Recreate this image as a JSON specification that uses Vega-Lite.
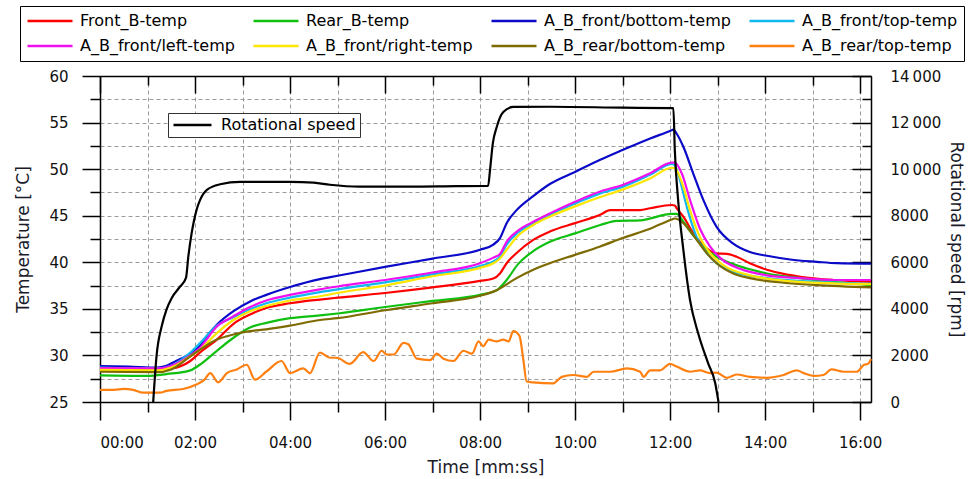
{
  "$schema": "https://vega.github.io/schema/vega-lite/v6.json",
  "width": 771,
  "height": 326,
  "autosize": {"type": "none"},
  "padding": {"left": 100, "top": 76, "right": 100, "bottom": 77},
  "background": "white",
  "config": {
    "font": "DejaVu Sans",
    "view": {"stroke": null},
    "axis": {
      "domainColor": "black", "tickColor": "black", "domainWidth": 1.5, "tickWidth": 1.5,
      "labelColor": "#111", "labelFont": "DejaVu Sans", "labelFontSize": 15,
      "titleFont": "DejaVu Sans", "titleFontSize": 17, "titleFontWeight": "normal", "titleColor": "#1a1a2a",
      "gridColor": "#9a9a9a", "gridDash": [4, 3], "gridWidth": 1
    }
  },
  "datasets": {
    "temps": [
      {"series":"Front_B-temp","time":0,"temp":28.55},{"series":"Front_B-temp","time":0.6,"temp":28.55},{"series":"Front_B-temp","time":1.2,"temp":28.5},{"series":"Front_B-temp","time":1.5,"temp":28.6},{"series":"Front_B-temp","time":1.9,"temp":29.4},{"series":"Front_B-temp","time":2.1,"temp":30.3},{"series":"Front_B-temp","time":2.46,"temp":31.7},{"series":"Front_B-temp","time":2.81,"temp":33.4},{"series":"Front_B-temp","time":3.16,"temp":34.4},{"series":"Front_B-temp","time":3.5,"temp":35.1},{"series":"Front_B-temp","time":4.0,"temp":35.6},{"series":"Front_B-temp","time":4.63,"temp":36.0},{"series":"Front_B-temp","time":5.0,"temp":36.2},{"series":"Front_B-temp","time":6.0,"temp":36.7},{"series":"Front_B-temp","time":7.0,"temp":37.3},{"series":"Front_B-temp","time":8.0,"temp":38.0},{"series":"Front_B-temp","time":8.28,"temp":38.25},{"series":"Front_B-temp","time":8.42,"temp":38.8},{"series":"Front_B-temp","time":8.56,"temp":39.9},{"series":"Front_B-temp","time":8.77,"temp":41.0},{"series":"Front_B-temp","time":9.12,"temp":42.4},{"series":"Front_B-temp","time":9.47,"temp":43.3},{"series":"Front_B-temp","time":10.0,"temp":44.2},{"series":"Front_B-temp","time":10.53,"temp":45.1},{"series":"Front_B-temp","time":10.74,"temp":45.6},{"series":"Front_B-temp","time":11.37,"temp":45.6},{"series":"Front_B-temp","time":11.58,"temp":45.8},{"series":"Front_B-temp","time":12.04,"temp":46.15},{"series":"Front_B-temp","time":12.1,"temp":46.1},{"series":"Front_B-temp","time":12.14,"temp":45.8},{"series":"Front_B-temp","time":12.28,"temp":44.9},{"series":"Front_B-temp","time":12.49,"temp":43.1},{"series":"Front_B-temp","time":12.77,"temp":41.5},{"series":"Front_B-temp","time":12.98,"temp":40.95},{"series":"Front_B-temp","time":13.19,"temp":40.9},{"series":"Front_B-temp","time":13.4,"temp":40.6},{"series":"Front_B-temp","time":13.68,"temp":39.9},{"series":"Front_B-temp","time":14.04,"temp":39.2},{"series":"Front_B-temp","time":14.39,"temp":38.75},{"series":"Front_B-temp","time":14.74,"temp":38.45},{"series":"Front_B-temp","time":15.44,"temp":38.1},{"series":"Front_B-temp","time":16.23,"temp":37.9},

      {"series":"Rear_B-temp","time":0,"temp":27.85},{"series":"Rear_B-temp","time":1.0,"temp":27.8},{"series":"Rear_B-temp","time":1.4,"temp":28.0},{"series":"Rear_B-temp","time":1.9,"temp":28.4},{"series":"Rear_B-temp","time":2.1,"temp":29.0},{"series":"Rear_B-temp","time":2.46,"temp":30.5},{"series":"Rear_B-temp","time":2.81,"temp":31.9},{"series":"Rear_B-temp","time":3.16,"temp":33.0},{"series":"Rear_B-temp","time":3.5,"temp":33.5},{"series":"Rear_B-temp","time":4.0,"temp":34.0},{"series":"Rear_B-temp","time":4.63,"temp":34.3},{"series":"Rear_B-temp","time":5.0,"temp":34.5},{"series":"Rear_B-temp","time":6.0,"temp":35.2},{"series":"Rear_B-temp","time":7.0,"temp":35.85},{"series":"Rear_B-temp","time":8.0,"temp":36.5},{"series":"Rear_B-temp","time":8.35,"temp":37.0},{"series":"Rear_B-temp","time":8.56,"temp":38.1},{"series":"Rear_B-temp","time":8.8,"temp":39.8},{"series":"Rear_B-temp","time":9.12,"temp":41.2},{"series":"Rear_B-temp","time":9.47,"temp":42.2},{"series":"Rear_B-temp","time":10.0,"temp":43.1},{"series":"Rear_B-temp","time":10.53,"temp":44.0},{"series":"Rear_B-temp","time":10.88,"temp":44.45},{"series":"Rear_B-temp","time":11.37,"temp":44.5},{"series":"Rear_B-temp","time":12.04,"temp":45.2},{"series":"Rear_B-temp","time":12.14,"temp":45.2},{"series":"Rear_B-temp","time":12.28,"temp":44.35},{"series":"Rear_B-temp","time":12.49,"temp":42.9},{"series":"Rear_B-temp","time":12.77,"temp":41.3},{"series":"Rear_B-temp","time":12.98,"temp":40.6},{"series":"Rear_B-temp","time":13.33,"temp":39.8},{"series":"Rear_B-temp","time":13.68,"temp":39.25},{"series":"Rear_B-temp","time":14.04,"temp":38.8},{"series":"Rear_B-temp","time":14.74,"temp":38.3},{"series":"Rear_B-temp","time":15.44,"temp":37.9},{"series":"Rear_B-temp","time":16.23,"temp":37.55},

      {"series":"A_B_front/bottom-temp","time":0,"temp":28.85},{"series":"A_B_front/bottom-temp","time":0.6,"temp":28.8},{"series":"A_B_front/bottom-temp","time":1.2,"temp":28.7},{"series":"A_B_front/bottom-temp","time":1.4,"temp":28.9},{"series":"A_B_front/bottom-temp","time":1.6,"temp":29.4},{"series":"A_B_front/bottom-temp","time":1.9,"temp":30.2},{"series":"A_B_front/bottom-temp","time":2.1,"temp":31.0},{"series":"A_B_front/bottom-temp","time":2.3,"temp":32.4},{"series":"A_B_front/bottom-temp","time":2.46,"temp":33.3},{"series":"A_B_front/bottom-temp","time":2.81,"temp":34.75},{"series":"A_B_front/bottom-temp","time":3.16,"temp":35.8},{"series":"A_B_front/bottom-temp","time":3.5,"temp":36.5},{"series":"A_B_front/bottom-temp","time":4.0,"temp":37.35},{"series":"A_B_front/bottom-temp","time":4.63,"temp":38.2},{"series":"A_B_front/bottom-temp","time":5.0,"temp":38.55},{"series":"A_B_front/bottom-temp","time":6.0,"temp":39.5},{"series":"A_B_front/bottom-temp","time":7.0,"temp":40.4},{"series":"A_B_front/bottom-temp","time":8.0,"temp":41.35},{"series":"A_B_front/bottom-temp","time":8.28,"temp":41.9},{"series":"A_B_front/bottom-temp","time":8.42,"temp":42.6},{"series":"A_B_front/bottom-temp","time":8.56,"temp":44.2},{"series":"A_B_front/bottom-temp","time":8.77,"temp":45.6},{"series":"A_B_front/bottom-temp","time":9.12,"temp":47.1},{"series":"A_B_front/bottom-temp","time":9.47,"temp":48.4},{"series":"A_B_front/bottom-temp","time":10.0,"temp":49.7},{"series":"A_B_front/bottom-temp","time":10.53,"temp":51.0},{"series":"A_B_front/bottom-temp","time":11.0,"temp":52.05},{"series":"A_B_front/bottom-temp","time":11.58,"temp":53.3},{"series":"A_B_front/bottom-temp","time":12.0,"temp":54.1},{"series":"A_B_front/bottom-temp","time":12.07,"temp":54.25},{"series":"A_B_front/bottom-temp","time":12.14,"temp":53.8},{"series":"A_B_front/bottom-temp","time":12.28,"temp":52.4},{"series":"A_B_front/bottom-temp","time":12.49,"temp":49.5},{"series":"A_B_front/bottom-temp","time":12.7,"temp":46.7},{"series":"A_B_front/bottom-temp","time":12.98,"temp":43.8},{"series":"A_B_front/bottom-temp","time":13.33,"temp":42.0},{"series":"A_B_front/bottom-temp","time":13.68,"temp":41.1},{"series":"A_B_front/bottom-temp","time":14.04,"temp":40.7},{"series":"A_B_front/bottom-temp","time":14.53,"temp":40.3},{"series":"A_B_front/bottom-temp","time":15.09,"temp":40.05},{"series":"A_B_front/bottom-temp","time":15.51,"temp":39.9},{"series":"A_B_front/bottom-temp","time":16.23,"temp":39.85},

      {"series":"A_B_front/top-temp","time":0,"temp":28.7},{"series":"A_B_front/top-temp","time":1.2,"temp":28.6},{"series":"A_B_front/top-temp","time":1.5,"temp":28.9},{"series":"A_B_front/top-temp","time":1.9,"temp":30.3},{"series":"A_B_front/top-temp","time":2.1,"temp":31.3},{"series":"A_B_front/top-temp","time":2.46,"temp":33.2},{"series":"A_B_front/top-temp","time":2.81,"temp":34.1},{"series":"A_B_front/top-temp","time":3.16,"temp":34.95},{"series":"A_B_front/top-temp","time":3.5,"temp":35.6},{"series":"A_B_front/top-temp","time":4.0,"temp":36.2},{"series":"A_B_front/top-temp","time":4.63,"temp":36.8},{"series":"A_B_front/top-temp","time":5.0,"temp":37.1},{"series":"A_B_front/top-temp","time":6.0,"temp":37.85},{"series":"A_B_front/top-temp","time":7.0,"temp":38.7},{"series":"A_B_front/top-temp","time":8.0,"temp":39.6},{"series":"A_B_front/top-temp","time":8.28,"temp":40.1},{"series":"A_B_front/top-temp","time":8.42,"temp":40.6},{"series":"A_B_front/top-temp","time":8.56,"temp":41.9},{"series":"A_B_front/top-temp","time":8.8,"temp":43.2},{"series":"A_B_front/top-temp","time":9.12,"temp":44.2},{"series":"A_B_front/top-temp","time":9.47,"temp":45.1},{"series":"A_B_front/top-temp","time":10.0,"temp":46.3},{"series":"A_B_front/top-temp","time":10.53,"temp":47.4},{"series":"A_B_front/top-temp","time":11.0,"temp":48.1},{"series":"A_B_front/top-temp","time":11.58,"temp":49.4},{"series":"A_B_front/top-temp","time":12.04,"temp":50.55},{"series":"A_B_front/top-temp","time":12.1,"temp":50.4},{"series":"A_B_front/top-temp","time":12.21,"temp":48.8},{"series":"A_B_front/top-temp","time":12.35,"temp":46.0},{"series":"A_B_front/top-temp","time":12.56,"temp":42.7},{"series":"A_B_front/top-temp","time":12.77,"temp":41.0},{"series":"A_B_front/top-temp","time":12.98,"temp":39.9},{"series":"A_B_front/top-temp","time":13.33,"temp":39.0},{"series":"A_B_front/top-temp","time":14.04,"temp":38.3},{"series":"A_B_front/top-temp","time":15.09,"temp":37.9},{"series":"A_B_front/top-temp","time":16.23,"temp":37.7},

      {"series":"A_B_front/left-temp","time":0,"temp":28.65},{"series":"A_B_front/left-temp","time":1.2,"temp":28.6},{"series":"A_B_front/left-temp","time":1.5,"temp":28.9},{"series":"A_B_front/left-temp","time":1.9,"temp":30.0},{"series":"A_B_front/left-temp","time":2.1,"temp":30.8},{"series":"A_B_front/left-temp","time":2.46,"temp":33.1},{"series":"A_B_front/left-temp","time":2.81,"temp":34.2},{"series":"A_B_front/left-temp","time":3.16,"temp":35.2},{"series":"A_B_front/left-temp","time":3.5,"temp":35.9},{"series":"A_B_front/left-temp","time":4.0,"temp":36.5},{"series":"A_B_front/left-temp","time":4.63,"temp":37.1},{"series":"A_B_front/left-temp","time":5.0,"temp":37.4},{"series":"A_B_front/left-temp","time":6.0,"temp":38.1},{"series":"A_B_front/left-temp","time":7.0,"temp":38.9},{"series":"A_B_front/left-temp","time":8.0,"temp":39.9},{"series":"A_B_front/left-temp","time":8.28,"temp":40.5},{"series":"A_B_front/left-temp","time":8.42,"temp":40.9},{"series":"A_B_front/left-temp","time":8.56,"temp":42.2},{"series":"A_B_front/left-temp","time":8.8,"temp":43.4},{"series":"A_B_front/left-temp","time":9.12,"temp":44.35},{"series":"A_B_front/left-temp","time":9.47,"temp":45.25},{"series":"A_B_front/left-temp","time":10.0,"temp":46.5},{"series":"A_B_front/left-temp","time":10.53,"temp":47.6},{"series":"A_B_front/left-temp","time":11.0,"temp":48.3},{"series":"A_B_front/left-temp","time":11.58,"temp":49.55},{"series":"A_B_front/left-temp","time":12.04,"temp":50.7},{"series":"A_B_front/left-temp","time":12.1,"temp":50.7},{"series":"A_B_front/left-temp","time":12.25,"temp":49.5},{"series":"A_B_front/left-temp","time":12.42,"temp":46.7},{"series":"A_B_front/left-temp","time":12.63,"temp":43.6},{"series":"A_B_front/left-temp","time":12.84,"temp":41.7},{"series":"A_B_front/left-temp","time":13.12,"temp":40.2},{"series":"A_B_front/left-temp","time":13.47,"temp":39.3},{"series":"A_B_front/left-temp","time":14.04,"temp":38.6},{"series":"A_B_front/left-temp","time":14.74,"temp":38.3},{"series":"A_B_front/left-temp","time":15.44,"temp":38.1},{"series":"A_B_front/left-temp","time":16.23,"temp":38.1},

      {"series":"A_B_front/right-temp","time":0,"temp":28.45},{"series":"A_B_front/right-temp","time":1.2,"temp":28.4},{"series":"A_B_front/right-temp","time":1.5,"temp":28.7},{"series":"A_B_front/right-temp","time":1.9,"temp":29.9},{"series":"A_B_front/right-temp","time":2.1,"temp":30.6},{"series":"A_B_front/right-temp","time":2.46,"temp":32.4},{"series":"A_B_front/right-temp","time":2.81,"temp":33.8},{"series":"A_B_front/right-temp","time":3.16,"temp":34.75},{"series":"A_B_front/right-temp","time":3.5,"temp":35.3},{"series":"A_B_front/right-temp","time":4.0,"temp":35.9},{"series":"A_B_front/right-temp","time":4.63,"temp":36.35},{"series":"A_B_front/right-temp","time":5.0,"temp":36.7},{"series":"A_B_front/right-temp","time":6.0,"temp":37.5},{"series":"A_B_front/right-temp","time":7.0,"temp":38.5},{"series":"A_B_front/right-temp","time":8.0,"temp":39.4},{"series":"A_B_front/right-temp","time":8.28,"temp":39.9},{"series":"A_B_front/right-temp","time":8.42,"temp":40.4},{"series":"A_B_front/right-temp","time":8.56,"temp":41.35},{"series":"A_B_front/right-temp","time":8.77,"temp":42.7},{"series":"A_B_front/right-temp","time":9.12,"temp":44.0},{"series":"A_B_front/right-temp","time":9.47,"temp":44.9},{"series":"A_B_front/right-temp","time":10.0,"temp":46.0},{"series":"A_B_front/right-temp","time":10.53,"temp":47.0},{"series":"A_B_front/right-temp","time":11.0,"temp":47.8},{"series":"A_B_front/right-temp","time":11.58,"temp":49.0},{"series":"A_B_front/right-temp","time":12.04,"temp":50.15},{"series":"A_B_front/right-temp","time":12.1,"temp":50.1},{"series":"A_B_front/right-temp","time":12.28,"temp":48.1},{"series":"A_B_front/right-temp","time":12.42,"temp":45.6},{"series":"A_B_front/right-temp","time":12.63,"temp":42.7},{"series":"A_B_front/right-temp","time":12.84,"temp":41.0},{"series":"A_B_front/right-temp","time":13.12,"temp":39.7},{"series":"A_B_front/right-temp","time":13.68,"temp":38.6},{"series":"A_B_front/right-temp","time":14.74,"temp":37.9},{"series":"A_B_front/right-temp","time":16.23,"temp":37.65},

      {"series":"A_B_rear/bottom-temp","time":0,"temp":28.25},{"series":"A_B_rear/bottom-temp","time":1.2,"temp":28.2},{"series":"A_B_rear/bottom-temp","time":1.5,"temp":28.5},{"series":"A_B_rear/bottom-temp","time":1.9,"temp":29.9},{"series":"A_B_rear/bottom-temp","time":2.1,"temp":30.6},{"series":"A_B_rear/bottom-temp","time":2.46,"temp":31.7},{"series":"A_B_rear/bottom-temp","time":2.81,"temp":32.25},{"series":"A_B_rear/bottom-temp","time":3.16,"temp":32.6},{"series":"A_B_rear/bottom-temp","time":3.5,"temp":32.8},{"series":"A_B_rear/bottom-temp","time":4.0,"temp":33.2},{"series":"A_B_rear/bottom-temp","time":4.63,"temp":33.8},{"series":"A_B_rear/bottom-temp","time":5.0,"temp":34.0},{"series":"A_B_rear/bottom-temp","time":6.0,"temp":34.85},{"series":"A_B_rear/bottom-temp","time":7.0,"temp":35.6},{"series":"A_B_rear/bottom-temp","time":8.0,"temp":36.4},{"series":"A_B_rear/bottom-temp","time":8.35,"temp":37.0},{"series":"A_B_rear/bottom-temp","time":8.77,"temp":38.3},{"series":"A_B_rear/bottom-temp","time":9.12,"temp":39.2},{"series":"A_B_rear/bottom-temp","time":9.47,"temp":39.9},{"series":"A_B_rear/bottom-temp","time":10.0,"temp":40.8},{"series":"A_B_rear/bottom-temp","time":10.53,"temp":41.7},{"series":"A_B_rear/bottom-temp","time":11.0,"temp":42.6},{"series":"A_B_rear/bottom-temp","time":11.58,"temp":43.6},{"series":"A_B_rear/bottom-temp","time":12.04,"temp":44.6},{"series":"A_B_rear/bottom-temp","time":12.1,"temp":44.7},{"series":"A_B_rear/bottom-temp","time":12.28,"temp":44.2},{"series":"A_B_rear/bottom-temp","time":12.49,"temp":42.9},{"series":"A_B_rear/bottom-temp","time":12.77,"temp":41.0},{"series":"A_B_rear/bottom-temp","time":12.98,"temp":39.9},{"series":"A_B_rear/bottom-temp","time":13.33,"temp":38.8},{"series":"A_B_rear/bottom-temp","time":13.68,"temp":38.3},{"series":"A_B_rear/bottom-temp","time":14.39,"temp":37.8},{"series":"A_B_rear/bottom-temp","time":15.09,"temp":37.55},{"series":"A_B_rear/bottom-temp","time":16.23,"temp":37.3},

      {"series":"A_B_rear/top-temp","time":0,"temp":26.3},{"series":"A_B_rear/top-temp","time":0.3,"temp":26.3},{"series":"A_B_rear/top-temp","time":0.5,"temp":26.4},{"series":"A_B_rear/top-temp","time":0.7,"temp":26.3},{"series":"A_B_rear/top-temp","time":0.91,"temp":26.0},{"series":"A_B_rear/top-temp","time":1.1,"temp":26.0},{"series":"A_B_rear/top-temp","time":1.26,"temp":26.0},{"series":"A_B_rear/top-temp","time":1.4,"temp":26.2},{"series":"A_B_rear/top-temp","time":1.75,"temp":26.4},{"series":"A_B_rear/top-temp","time":2.04,"temp":26.9},{"series":"A_B_rear/top-temp","time":2.2,"temp":27.4},{"series":"A_B_rear/top-temp","time":2.32,"temp":28.1},{"series":"A_B_rear/top-temp","time":2.49,"temp":27.1},{"series":"A_B_rear/top-temp","time":2.67,"temp":28.1},{"series":"A_B_rear/top-temp","time":2.88,"temp":28.5},{"series":"A_B_rear/top-temp","time":3.09,"temp":29.0},{"series":"A_B_rear/top-temp","time":3.26,"temp":27.4},{"series":"A_B_rear/top-temp","time":3.51,"temp":28.3},{"series":"A_B_rear/top-temp","time":3.82,"temp":29.4},{"series":"A_B_rear/top-temp","time":4.0,"temp":28.1},{"series":"A_B_rear/top-temp","time":4.28,"temp":28.6},{"series":"A_B_rear/top-temp","time":4.42,"temp":28.1},{"series":"A_B_rear/top-temp","time":4.63,"temp":30.3},{"series":"A_B_rear/top-temp","time":4.84,"temp":29.75},{"series":"A_B_rear/top-temp","time":4.98,"temp":29.75},{"series":"A_B_rear/top-temp","time":5.26,"temp":29.1},{"series":"A_B_rear/top-temp","time":5.54,"temp":30.35},{"series":"A_B_rear/top-temp","time":5.76,"temp":29.4},{"series":"A_B_rear/top-temp","time":5.93,"temp":30.5},{"series":"A_B_rear/top-temp","time":6.04,"temp":30.1},{"series":"A_B_rear/top-temp","time":6.18,"temp":30.1},{"series":"A_B_rear/top-temp","time":6.39,"temp":31.35},{"series":"A_B_rear/top-temp","time":6.49,"temp":31.2},{"series":"A_B_rear/top-temp","time":6.67,"temp":29.65},{"series":"A_B_rear/top-temp","time":6.95,"temp":29.5},{"series":"A_B_rear/top-temp","time":7.09,"temp":30.2},{"series":"A_B_rear/top-temp","time":7.23,"temp":29.65},{"series":"A_B_rear/top-temp","time":7.44,"temp":29.4},{"series":"A_B_rear/top-temp","time":7.65,"temp":30.5},{"series":"A_B_rear/top-temp","time":7.83,"temp":30.2},{"series":"A_B_rear/top-temp","time":7.97,"temp":31.5},{"series":"A_B_rear/top-temp","time":8.07,"temp":31.0},{"series":"A_B_rear/top-temp","time":8.18,"temp":31.7},{"series":"A_B_rear/top-temp","time":8.35,"temp":31.5},{"series":"A_B_rear/top-temp","time":8.49,"temp":31.7},{"series":"A_B_rear/top-temp","time":8.6,"temp":31.5},{"series":"A_B_rear/top-temp","time":8.7,"temp":32.6},{"series":"A_B_rear/top-temp","time":8.83,"temp":32.1},{"series":"A_B_rear/top-temp","time":8.91,"temp":29.6},{"series":"A_B_rear/top-temp","time":8.98,"temp":27.2},{"series":"A_B_rear/top-temp","time":9.12,"temp":27.1},{"series":"A_B_rear/top-temp","time":9.54,"temp":27.0},{"series":"A_B_rear/top-temp","time":9.72,"temp":27.7},{"series":"A_B_rear/top-temp","time":9.96,"temp":27.9},{"series":"A_B_rear/top-temp","time":10.25,"temp":27.7},{"series":"A_B_rear/top-temp","time":10.39,"temp":28.25},{"series":"A_B_rear/top-temp","time":10.74,"temp":28.25},{"series":"A_B_rear/top-temp","time":11.09,"temp":28.6},{"series":"A_B_rear/top-temp","time":11.37,"temp":28.25},{"series":"A_B_rear/top-temp","time":11.44,"temp":27.7},{"series":"A_B_rear/top-temp","time":11.58,"temp":28.4},{"series":"A_B_rear/top-temp","time":11.79,"temp":28.4},{"series":"A_B_rear/top-temp","time":12.0,"temp":29.1},{"series":"A_B_rear/top-temp","time":12.14,"temp":28.8},{"series":"A_B_rear/top-temp","time":12.42,"temp":28.25},{"series":"A_B_rear/top-temp","time":12.63,"temp":28.4},{"series":"A_B_rear/top-temp","time":12.84,"temp":28.1},{"series":"A_B_rear/top-temp","time":12.98,"temp":28.15},{"series":"A_B_rear/top-temp","time":13.19,"temp":27.6},{"series":"A_B_rear/top-temp","time":13.4,"temp":27.95},{"series":"A_B_rear/top-temp","time":13.68,"temp":27.7},{"series":"A_B_rear/top-temp","time":14.04,"temp":27.6},{"series":"A_B_rear/top-temp","time":14.39,"temp":27.9},{"series":"A_B_rear/top-temp","time":14.67,"temp":28.4},{"series":"A_B_rear/top-temp","time":14.81,"temp":28.1},{"series":"A_B_rear/top-temp","time":15.02,"temp":27.8},{"series":"A_B_rear/top-temp","time":15.23,"temp":27.9},{"series":"A_B_rear/top-temp","time":15.4,"temp":28.5},{"series":"A_B_rear/top-temp","time":15.65,"temp":28.25},{"series":"A_B_rear/top-temp","time":15.93,"temp":28.25},{"series":"A_B_rear/top-temp","time":16.07,"temp":28.95},{"series":"A_B_rear/top-temp","time":16.18,"temp":29.15},{"series":"A_B_rear/top-temp","time":16.23,"temp":29.6}
    ],
    "speed": [
      {"time":1.12,"rpm":0},{"time":1.19,"rpm":1970},{"time":1.3,"rpm":3260},{"time":1.4,"rpm":3970},{"time":1.51,"rpm":4470},{"time":1.68,"rpm":4940},{"time":1.81,"rpm":5330},{"time":1.86,"rpm":6260},{"time":1.93,"rpm":7260},{"time":2.04,"rpm":8300},{"time":2.11,"rpm":8690},{"time":2.25,"rpm":9110},{"time":2.53,"rpm":9350},{"time":2.95,"rpm":9450},{"time":4.0,"rpm":9450},{"time":4.5,"rpm":9420},{"time":4.84,"rpm":9330},{"time":5.47,"rpm":9250},{"time":6.5,"rpm":9250},{"time":7.5,"rpm":9270},{"time":8.17,"rpm":9280},{"time":8.21,"rpm":9960},{"time":8.27,"rpm":11120},{"time":8.35,"rpm":11800},{"time":8.49,"rpm":12450},{"time":8.7,"rpm":12670},{"time":9.5,"rpm":12680},{"time":11.0,"rpm":12640},{"time":12.07,"rpm":12620},{"time":12.1,"rpm":10820},{"time":12.17,"rpm":8670},{"time":12.28,"rpm":6530},{"time":12.42,"rpm":4380},{"time":12.59,"rpm":2960},{"time":12.8,"rpm":1670},{"time":12.95,"rpm":820},{"time":13.02,"rpm":0}
    ]
  },
  "layer": [
    {
      "data": {"name": "temps"},
      "mark": {"type": "line", "opacity": 0},
      "encoding": {
        "x": {"field": "time", "type": "quantitative", "scale": {"domain": [0, 16.23], "nice": false, "zero": false},
              "axis": {"orient": "bottom", "values": [1,2,3,4,5,6,7,8,9,10,11,12,13,14,15,16], "grid": true, "ticks": false, "labels": false, "domain": false, "title": null}},
        "y": {"field": "temp", "type": "quantitative", "scale": {"domain": [25, 60], "nice": false, "zero": false},
              "axis": {"orient": "left", "values": [27.5,30,32.5,35,37.5,40,42.5,45,47.5,50,52.5,55,57.5], "grid": true, "ticks": false, "labels": false, "domain": false, "title": null}}
      }
    },
    {
      "data": {"name": "temps"},
      "mark": {"type": "line", "opacity": 0},
      "encoding": {
        "x": {"field": "time", "type": "quantitative", "scale": {"domain": [0, 16.23], "nice": false, "zero": false},
              "axis": {"orient": "bottom", "values": [1,3,5,7,9,11,13,15], "grid": false, "tickSize": 10, "labels": false, "domain": false, "title": null}},
        "y": {"field": "temp", "type": "quantitative", "scale": {"domain": [25, 60], "nice": false, "zero": false},
              "axis": {"orient": "left", "values": [27.5,32.5,37.5,42.5,47.5,52.5,57.5], "grid": false, "tickSize": 10, "labels": false, "domain": false, "title": null}}
      }
    },
    {
      "data": {"name": "speed"},
      "mark": {"type": "line", "opacity": 0},
      "encoding": {
        "x": {"field": "time", "type": "quantitative", "scale": {"domain": [0, 16.23], "nice": false, "zero": false},
              "axis": {"orient": "top", "values": [1,3,5,7,9,11,13,15], "grid": false, "tickSize": -9, "labels": false, "domain": false, "title": null}},
        "y": {"field": "rpm", "type": "quantitative", "scale": {"domain": [0, 14000], "nice": false},
              "axis": {"orient": "right", "values": [1000,3000,5000,7000,9000,11000,13000], "grid": false, "tickSize": -9, "labels": false, "domain": false, "title": null}}
      }
    },
    {
      "data": {"name": "temps"},
      "mark": {"type": "line", "strokeWidth": 2.2, "interpolate": "monotone"},
      "encoding": {
        "x": {"field": "time", "type": "quantitative", "scale": {"domain": [0, 16.23], "nice": false, "zero": false},
              "axis": {"orient": "bottom", "values": [0,2,4,6,8,10,12,14,16], "grid": false, "tickSize": 18, "labelPadding": 15,
                       "labelExpr": "(datum.value < 10 ? '0' : '') + datum.value + ':00'", "title": "Time [mm:ss]", "titlePadding": 9}},
        "y": {"field": "temp", "type": "quantitative", "scale": {"domain": [25, 60], "nice": false, "zero": false},
              "axis": {"orient": "left", "values": [25,30,35,40,45,50,55,60], "grid": false, "tickSize": 18, "labelPadding": 14,
                       "title": "Temperature [°C]", "titlePadding": 16}},
        "color": {"field": "series", "type": "nominal",
                  "scale": {"domain": ["Front_B-temp","A_B_front/left-temp","Rear_B-temp","A_B_front/right-temp","A_B_front/bottom-temp","A_B_rear/bottom-temp","A_B_front/top-temp","A_B_rear/top-temp"],
                            "range": ["#ff0000","#ee10ee","#10c010","#ffe600","#0a0ac8","#7d6a00","#10b8f0","#ff8010"]},
                  "legend": {"orient": "none", "legendX": -80, "legendY": -70, "columns": 4, "title": null,
                             "symbolType": "stroke", "symbolSize": 2025, "symbolStrokeWidth": 2.5,
                             "labelFont": "DejaVu Sans", "labelFontSize": 16, "labelColor": "black", "labelLimit": 400,
                             "strokeColor": "black", "fillColor": "white", "padding": 6, "rowPadding": 7, "columnPadding": 17,
                             "labelOffset": 6, "clipHeight": 18}}
      }
    },
    {
      "data": {"name": "speed"},
      "mark": {"type": "line", "strokeWidth": 2.2, "interpolate": "monotone"},
      "encoding": {
        "x": {"field": "time", "type": "quantitative", "scale": {"domain": [0, 16.23], "nice": false, "zero": false},
              "axis": {"orient": "top", "values": [0,2,4,6,8,10,12,14,16], "grid": false, "tickSize": -17, "labels": false, "title": null}},
        "y": {"field": "rpm", "type": "quantitative", "scale": {"domain": [0, 14000], "nice": false},
              "axis": {"orient": "right", "values": [0,2000,4000,6000,8000,10000,12000,14000], "grid": false, "tickSize": -19, "labelPadding": 38,
                       "labelExpr": "datum.value >= 10000 ? floor(datum.value / 1000) + '\u2009000' : '' + datum.value",
                       "title": "Rotational speed [rpm]", "titlePadding": 6}},
        "color": {"datum": "Rotational speed", "type": "nominal",
                  "scale": {"range": ["black"]},
                  "legend": {"orient": "none", "legendX": 68, "legendY": 37, "title": null,
                             "symbolType": "stroke", "symbolSize": 1444, "symbolStrokeWidth": 2.5,
                             "labelFont": "DejaVu Sans", "labelFontSize": 16, "labelColor": "black",
                             "strokeColor": "#333", "fillColor": "white", "padding": 4, "labelOffset": 8, "clipHeight": 16}}
      }
    }
  ],
  "resolve": {
    "scale": {"y": "independent", "color": "independent"},
    "axis": {"x": "independent", "y": "independent"},
    "legend": {"color": "independent"}
  }
}
